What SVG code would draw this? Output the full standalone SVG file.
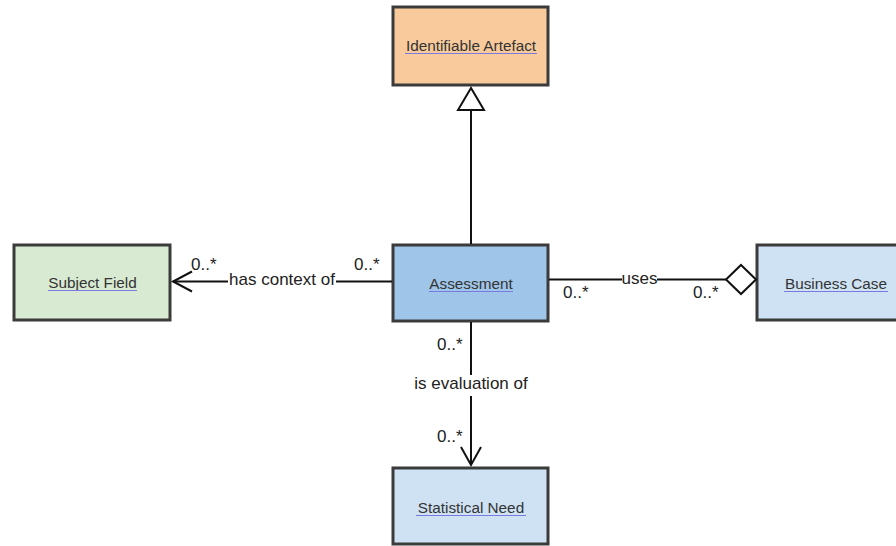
<svg xmlns="http://www.w3.org/2000/svg" width="896" height="546" viewBox="0 0 896 546">
<style>
.box{stroke:#3b3b3b;stroke-width:3}
.nt{font-family:"Liberation Sans",Arial,sans-serif;font-size:15.3px;fill:#333;text-anchor:middle}
.ul{stroke:#7a7ae0;stroke-width:1}
.lb{font-family:"Liberation Sans",Arial,sans-serif;font-size:17px;fill:#222}
.ln{stroke:#111;stroke-width:2;fill:none}
.bg{fill:#fff}
</style>
<rect width="896" height="546" fill="#fff"/>
<g id="identifiable-artefact">
<rect class="box" x="393" y="7" width="155" height="78" fill="#f9cb9c"/>
<text class="nt" x="471" y="51">Identifiable Artefact</text>
<line class="ul" x1="405" y1="53.5" x2="537" y2="53.5"/>
</g>
<g id="subject-field">
<rect class="box" x="14" y="245" width="156" height="75" fill="#d9ead3"/>
<text class="nt" x="92.5" y="288">Subject Field</text>
<line class="ul" x1="48" y1="290.5" x2="137" y2="290.5"/>
</g>
<g id="assessment">
<rect class="box" x="393" y="245" width="155" height="76" fill="#9fc5e8"/>
<text class="nt" x="471" y="289">Assessment</text>
<line class="ul" x1="429" y1="291.5" x2="513" y2="291.5"/>
</g>
<g id="business-case">
<rect class="box" x="757" y="245" width="160" height="75" fill="#cfe2f3"/>
<text class="nt" x="836" y="289">Business Case</text>
<line class="ul" x1="784" y1="291.5" x2="888" y2="291.5"/>
</g>
<g id="statistical-need">
<rect class="box" x="393" y="468" width="155" height="76" fill="#cfe2f3"/>
<text class="nt" x="471" y="513">Statistical Need</text>
<line class="ul" x1="416" y1="515.5" x2="526" y2="515.5"/>
</g>
<g id="connectors">
<!-- generalization -->
<line class="ln" x1="471" y1="244" x2="471" y2="110"/>
<polygon points="471,88 458,110 484,110" fill="#fff" stroke="#111" stroke-width="2"/>
<!-- has context of -->
<line class="ln" x1="392" y1="281.5" x2="173" y2="281.5"/>
<polyline class="ln" points="192,271.5 173,281.5 192,291.5"/>
<rect class="bg" x="228" y="268" width="108" height="22"/>
<text class="lb" x="282" y="285" text-anchor="middle">has context of</text>
<text class="lb" x="191" y="270">0..*</text>
<text class="lb" x="354" y="270">0..*</text>
<!-- uses -->
<line class="ln" x1="549" y1="279.5" x2="726" y2="279.5"/>
<polygon points="726,279.5 741,265 756,279.5 741,294" fill="#fff" stroke="#111" stroke-width="2"/>
<rect class="bg" x="622" y="268" width="35" height="18"/>
<text class="lb" x="639.5" y="284" text-anchor="middle">uses</text>
<text class="lb" x="563" y="298">0..*</text>
<text class="lb" x="693" y="298">0..*</text>
<!-- is evaluation of -->
<line class="ln" x1="471" y1="322" x2="471" y2="465"/>
<polyline class="ln" points="461,447 471,465 481,447"/>
<rect class="bg" x="410" y="375" width="122" height="21"/>
<text class="lb" x="471" y="389" text-anchor="middle">is evaluation of</text>
<text class="lb" x="437" y="350">0..*</text>
<text class="lb" x="437" y="442">0..*</text>
</g>
</svg>
